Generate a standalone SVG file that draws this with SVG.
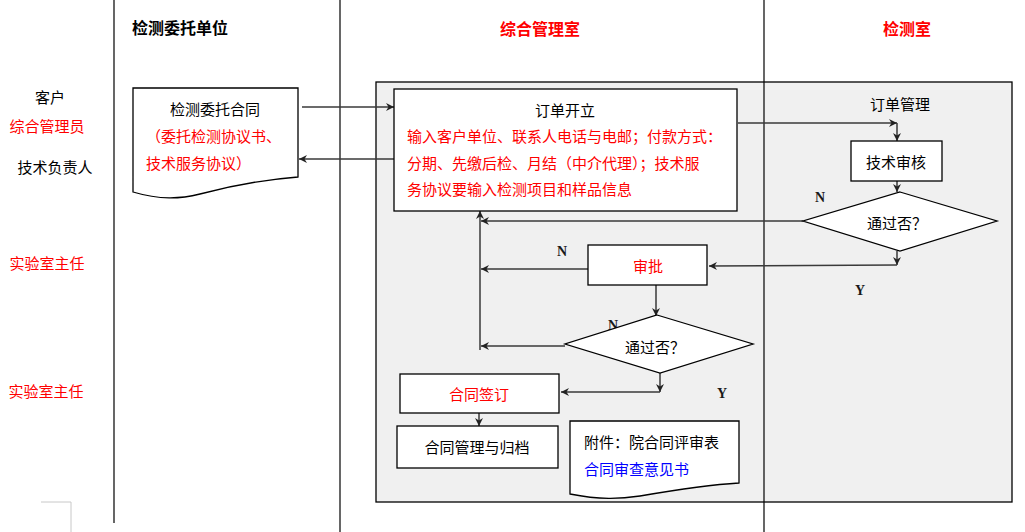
<svg xmlns="http://www.w3.org/2000/svg" width="1025" height="532" viewBox="0 0 1025 532">
  <style>
    text { font-family: "Noto Sans CJK SC", "Liberation Sans", sans-serif; font-size: 15px; fill: #000; dominant-baseline: central; }
    .hd { font-size: 16px; font-weight: bold; }
    .red { fill: #ff0000; }
    .blue { fill: #0000ff; }
    .yn { font-family: "Liberation Serif", serif; font-weight: bold; font-size: 14px; fill: #1a1a1a; }
    .box { fill: #fff; stroke: #000; stroke-width: 1.3; }
    .lane { stroke: #000; stroke-width: 1.2; fill: none; }
    .conn { stroke: #3a3a3a; stroke-width: 1.5; fill: none; }
    .arr { marker-end: url(#ah); }
  </style>
  <defs>
    <marker id="ah" markerWidth="9" markerHeight="8" refX="8" refY="4" orient="auto" markerUnits="userSpaceOnUse">
      <path d="M0,0 L8,4 L0,8 L2.5,4 z" fill="#222"/>
    </marker>
  </defs>

  <!-- swimlane frame -->
  <g id="lanes">
    <line class="lane" x1="114" y1="0" x2="114" y2="523"/>
    <line class="lane" x1="340" y1="0" x2="340" y2="532"/>
    <rect x="376" y="82" width="636" height="420" fill="#f0f0f0" stroke="#000" stroke-width="1.3"/>
    <line class="lane" x1="764" y1="0" x2="764" y2="532"/>
    <polyline points="41,502 71,502 71,532" fill="none" stroke="#c8c8c8" stroke-width="1"/>
  </g>

  <!-- lane headers -->
  <g id="headers">
    <text class="hd" x="180" y="27" text-anchor="middle">检测委托单位</text>
    <text class="hd red" x="540" y="28" text-anchor="middle">综合管理室</text>
    <text class="hd red" x="907" y="28" text-anchor="middle">检测室</text>
  </g>

  <!-- role labels -->
  <g id="roles">
    <text x="50" y="96" text-anchor="middle">客户</text>
    <text class="red" x="47" y="125" text-anchor="middle">综合管理员</text>
    <text x="55" y="166" text-anchor="middle">技术负责人</text>
    <text class="red" x="47" y="262" text-anchor="middle">实验室主任</text>
    <text class="red" x="46" y="390" text-anchor="middle">实验室主任</text>
  </g>

  <!-- connectors -->
  <g id="connectors">
    <line class="conn arr" x1="302" y1="107" x2="394" y2="107"/>
    <line class="conn arr" x1="394" y1="159" x2="299" y2="159"/>
    <line class="conn arr" x1="738" y1="123" x2="897" y2="123"/>
    <line class="conn arr" x1="897" y1="123" x2="897" y2="141"/>
    <line class="conn arr" x1="897" y1="181" x2="897" y2="192"/>
    <line class="conn arr" x1="803" y1="221" x2="481" y2="221"/>
    <line class="conn arr" x1="897" y1="251" x2="897" y2="265"/>
    <line class="conn arr" x1="897" y1="265" x2="709" y2="266"/>
    <line class="conn arr" x1="588" y1="269" x2="481" y2="269"/>
    <line class="conn arr" x1="656" y1="285" x2="656" y2="316"/>
    <line class="conn arr" x1="565" y1="346" x2="481" y2="346"/>
    <line class="conn arr" x1="480" y1="350" x2="480" y2="211"/>
    <line class="conn arr" x1="660" y1="373" x2="660" y2="392"/>
    <line class="conn arr" x1="660" y1="392" x2="561" y2="392"/>
    <line class="conn arr" x1="479" y1="413" x2="479" y2="426"/>
  </g>

  <!-- branch labels -->
  <g id="branch-labels">
    <text class="yn" x="820" y="197" text-anchor="middle">N</text>
    <text class="yn" x="860" y="290" text-anchor="middle">Y</text>
    <text class="yn" x="562" y="251" text-anchor="middle">N</text>
    <text class="yn" x="613" y="325" text-anchor="middle">N</text>
    <text class="yn" x="722" y="393" text-anchor="middle">Y</text>
  </g>

  <g id="node-contract">
    <path class="box" d="M133,88 H298 V177 C260,180 230,186 200,194 C180,199 160,200 133,192 Z"/>
    <text x="215" y="108" text-anchor="middle">检测委托合同</text>
    <text class="red" x="146" y="135">（委托检测协议书、</text>
    <text class="red" x="146" y="162">技术服务协议）</text>
  </g>

  <g id="node-order-open">
    <rect class="box" x="394" y="89" width="343" height="122"/>
    <text x="565" y="109" text-anchor="middle">订单开立</text>
    <text class="red" x="407" y="135">输入客户单位、联系人电话与电邮；付款方式：</text>
    <text class="red" x="407" y="162">分期、先缴后检、月结（中介代理）；技术服</text>
    <text class="red" x="407" y="188">务协议要输入检测项目和样品信息</text>
  </g>

  <g id="node-order-mgmt">
    <text x="900" y="103" text-anchor="middle">订单管理</text>
  </g>

  <g id="node-tech-review">
    <rect class="box" x="851" y="141" width="91" height="40"/>
    <text x="896" y="161" text-anchor="middle">技术审核</text>
  </g>

  <g id="node-decision-1">
    <polygon class="box" points="900,192 997,221 900,251 803,221"/>
    <text x="897" y="222" text-anchor="middle">通过否？</text>
  </g>

  <g id="node-approve">
    <rect class="box" x="588" y="245" width="119" height="40"/>
    <text class="red" x="648" y="265" text-anchor="middle">审批</text>
  </g>

  <g id="node-decision-2">
    <polygon class="box" points="657,315 753,344 660,373 565,344"/>
    <text x="655" y="346" text-anchor="middle">通过否？</text>
  </g>

  <g id="node-sign">
    <rect class="box" x="400" y="374" width="159" height="39"/>
    <text class="red" x="479" y="393" text-anchor="middle">合同签订</text>
  </g>

  <g id="node-archive">
    <rect class="box" x="397" y="426" width="161" height="42"/>
    <text x="477" y="446" text-anchor="middle">合同管理与归档</text>
  </g>

  <g id="node-attachment">
    <path class="box" d="M570,421 H739 V483 C705,485 675,490 640,496 C620,499 600,500 570,494 Z"/>
    <text x="584" y="441">附件：院合同评审表</text>
    <text class="blue" x="584" y="468">合同审查意见书</text>
  </g>
</svg>
